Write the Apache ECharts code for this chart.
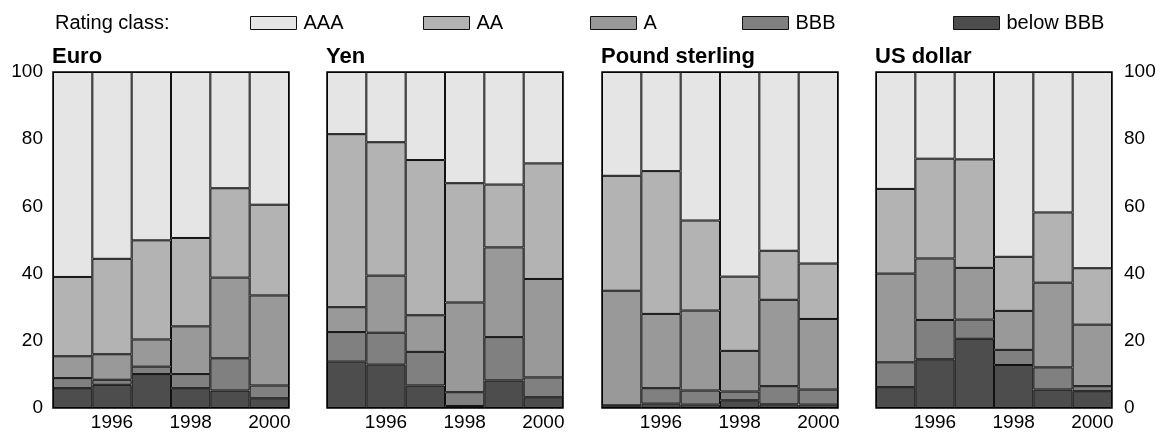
<!DOCTYPE html>
<html>
<head>
<meta charset="utf-8">
<script src="https://cdn.jsdelivr.net/npm/echarts@6/dist/echarts.min.js"></script>
<style>
html,body{margin:0;padding:0;background:#fff;}
#chart{width:1161px;height:432px;}
</style>
</head>
<body>
<div id="chart"></div>
<script>
// Categories
const years = ['1995', '1996', '1997', '1998', '1999', '2000'];
const currencies = ['Euro', 'Yen', 'Pound sterling', 'US dollar'];
const ratingClasses = ['below BBB', 'BBB', 'A', 'AA', 'AAA'];
const legendOrder = ['AAA', 'AA', 'A', 'BBB', 'below BBB'];
const yTicks = [0, 20, 40, 60, 80, 100];

// Shares (%) by rating class, bottom to top
const euroBelowBBB = [5.9, 6.9, 10.1, 5.9, 5.2, 2.9];
const euroBBB      = [3.0, 1.5, 2.2, 4.2, 9.6, 3.8];
const euroA        = [6.5, 7.6, 8.1, 14.2, 24.0, 26.8];
const euroAA       = [23.6, 28.4, 29.5, 26.3, 26.6, 27.0];
const euroAAA      = [61.0, 55.6, 50.1, 49.4, 34.6, 39.5];

const yenBelowBBB = [13.8, 12.9, 6.7, 0.6, 8.2, 3.2];
const yenBBB      = [8.8, 9.5, 10.0, 4.1, 12.9, 5.9];
const yenA        = [7.4, 17.0, 10.9, 26.7, 26.7, 29.3];
const yenAA       = [51.5, 39.7, 46.2, 35.5, 18.7, 34.4];
const yenAAA      = [18.5, 20.9, 26.2, 33.1, 33.5, 27.2];

const gbpBelowBBB = [0.4, 1.3, 1.0, 2.3, 1.1, 1.0];
const gbpBBB      = [0.4, 4.6, 4.2, 2.6, 5.4, 4.5];
const gbpA        = [34.1, 22.1, 23.8, 12.1, 25.7, 21.0];
const gbpAA       = [34.2, 42.5, 26.8, 22.1, 14.6, 16.5];
const gbpAAA      = [30.9, 29.5, 44.2, 60.9, 53.2, 57.0];

const usdBelowBBB = [6.2, 14.5, 20.6, 12.8, 5.5, 5.0];
const usdBBB      = [7.4, 11.7, 5.7, 4.5, 6.6, 1.5];
const usdA        = [26.4, 18.3, 15.4, 11.6, 25.2, 18.3];
const usdAA       = [25.2, 29.7, 32.3, 16.1, 20.9, 16.8];
const usdAAA      = [34.8, 25.8, 26.0, 55.0, 41.8, 58.4];

const panelData = [
  [euroBelowBBB, euroBBB, euroA, euroAA, euroAAA],
  [yenBelowBBB, yenBBB, yenA, yenAA, yenAAA],
  [gbpBelowBBB, gbpBBB, gbpA, gbpAA, gbpAAA],
  [usdBelowBBB, usdBBB, usdA, usdAA, usdAAA]
];

const colors = {
  'below BBB': '#4d4d4d',
  'BBB': '#808080',
  'A': '#999999',
  'AA': '#b3b3b3',
  'AAA': '#e5e5e5'
};

const FONT = '"Liberation Sans", Arial, Helvetica, sans-serif';
const gridLefts = [53, 327, 602, 876];
const gridWidth = 236;
const gridTop = 72;
const gridHeight = 339;

const grids = [], xAxes = [], yAxes = [], series = [], titles = [];
currencies.forEach((cur, gi) => {
  grids.push({
    left: gridLefts[gi], top: gridTop, width: gridWidth, height: gridHeight,
    show: true, borderColor: '#000', borderWidth: 1.5, backgroundColor: 'transparent', z: 5
  });
  xAxes.push({
    type: 'category', gridIndex: gi, data: years,
    axisLine: { show: false }, axisTick: { show: false },
    axisLabel: {
      interval: 0,
      formatter: (v, i) => (i % 2 === 1 ? v : ''),
      color: '#000', fontFamily: FONT, fontSize: 19, margin: 5
    }
  });
  yAxes.push({
    type: 'value', gridIndex: gi, min: 0, max: 100, interval: 20,
    position: gi === 3 ? 'right' : 'left',
    splitLine: { show: false }, axisLine: { show: false }, axisTick: { show: false },
    axisLabel: {
      show: gi === 0 || gi === 3,
      color: '#000', fontFamily: FONT, fontSize: 19,
      margin: gi === 3 ? 12 : 10
    }
  });
  titles.push({
    text: cur, left: gridLefts[gi] - 1, top: 46, padding: 0,
    textStyle: { fontFamily: FONT, fontSize: 22, fontWeight: 'bold', color: '#000' }
  });
  ratingClasses.forEach((rc, ri) => {
    series.push({
      name: rc, type: 'bar', xAxisIndex: gi, yAxisIndex: gi,
      stack: 'cur' + gi, data: panelData[gi][ri],
      barCategoryGap: 0, barWidth: '100%',
      itemStyle: { color: colors[rc], borderColor: '#111', borderWidth: 1 },
      emphasis: { disabled: true },
      animation: false
    });
  });
});

const legendLefts = { 'AAA': 250, 'AA': 423, 'A': 590, 'BBB': 742, 'below BBB': 953 };
const legends = legendOrder.map(name => ({
  data: [name], left: legendLefts[name], top: 13, padding: 0,
  icon: 'rect', itemWidth: 46, itemHeight: 13, itemGap: 0,
  selectedMode: false,
  itemStyle: { borderColor: '#111', borderWidth: 1 },
  textStyle: { fontFamily: FONT, fontSize: 20, color: '#000', padding: [0, 0, 0, 2] }
}));

const chart = echarts.init(document.getElementById('chart'), null, { renderer: 'canvas' });
chart.setOption({
  animation: false,
  backgroundColor: '#fff',
  title: titles,
  legend: legends,
  grid: grids,
  xAxis: xAxes,
  yAxis: yAxes,
  series: series,
  graphic: [{
    type: 'text', left: 55, top: 13,
    style: { text: 'Rating class:', font: '20px ' + FONT, fill: '#000' }
  }]
});
</script>
</body>
</html>
